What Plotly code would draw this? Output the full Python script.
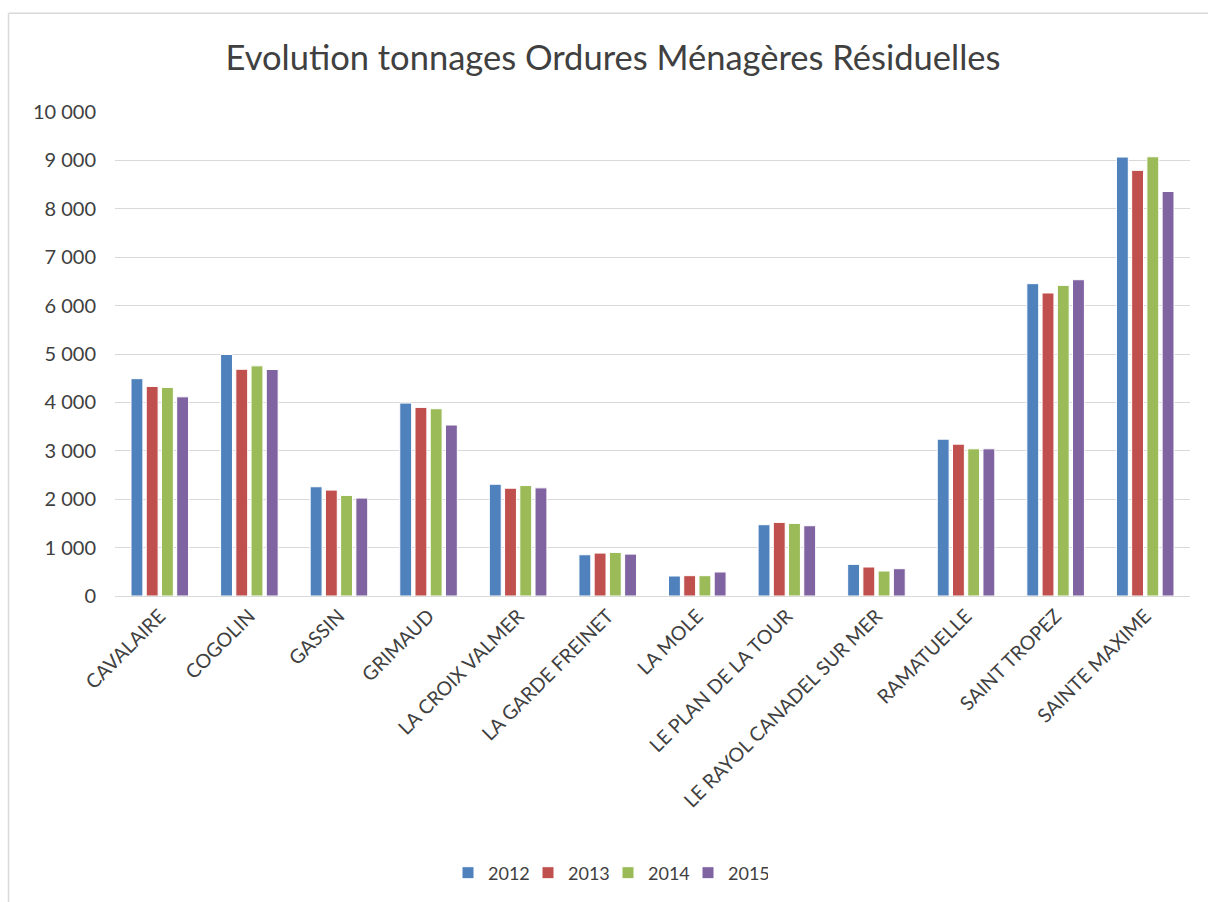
import plotly.graph_objects as go

communes = ["CAVALAIRE", "COGOLIN", "GASSIN", "GRIMAUD", "LA CROIX VALMER",
            "LA GARDE FREINET", "LA MOLE", "LE PLAN DE LA TOUR",
            "LE RAYOL CANADEL SUR MER", "RAMATUELLE", "SAINT TROPEZ", "SAINTE MAXIME"]
v2012 = [4490, 4990, 2257, 3986, 2309, 852, 413, 1473, 654, 3240, 6453, 9069]
v2013 = [4330, 4685, 2188, 3897, 2227, 887, 420, 1521, 599, 3137, 6261, 8794]
v2014 = [4310, 4755, 2078, 3869, 2282, 900, 420, 1500, 516, 3041, 6418, 9075]
v2015 = [4115, 4680, 2023, 3533, 2234, 866, 496, 1452, 564, 3041, 6535, 8357]
years = ["2012", "2013", "2014", "2015"]
colors = ["#4F81BD", "#C0504D", "#9BBB59", "#8064A2"]
yticks = list(range(0, 10001, 1000))

fig = go.Figure()
for name, vals, col in zip(years, [v2012, v2013, v2014, v2015], colors):
    fig.add_trace(go.Bar(x=communes, y=vals, name=name,
                         marker=dict(color=col, line=dict(color="white", width=1))))

W, H = 1208, 902
L, R, T, B = 115, 18, 112, 305
PW, PH = W - L - R, H - T - B

def px(x):
    return (x - L) / PW

def py(y):
    return (H - B - y) / PH

FONT = "Lato, 'Open Sans', sans-serif"
fig.update_layout(
    width=W, height=H,
    paper_bgcolor="white", plot_bgcolor="white",
    margin=dict(l=L, r=R, t=T, b=B),
    separators=", ",
    barmode="group", bargap=0.32, bargroupgap=0.22,
    font=dict(family=FONT, color="#404040"),
    title=dict(text="Evolution tonnages Ordures Ménagères Résiduelles",
               x=613 / W, xanchor="center", y=1 - 58 / H, yanchor="middle",
               xref="container", yref="container",
               font=dict(size=34.5, color="#404040", family=FONT)),
    legend=dict(orientation="h", x=px(448), xanchor="left", y=py(873), yanchor="middle",
                font=dict(size=18, color="#404040"), itemwidth=30, traceorder="normal",
                entrywidth=35, entrywidthmode="pixels"),
    xaxis=dict(tickangle=-45, tickfont=dict(size=19.5, color="#404040"),
               showline=True, linecolor="#D9D9D9", linewidth=1, ticks="",
               automargin=False),
    yaxis=dict(range=[0, 10000], tickvals=yticks, tickformat=",d",
               tickfont=dict(size=20, color="#404040"), ticklabelstandoff=18,
               gridcolor="#D9D9D9", gridwidth=1, zeroline=False, ticks="",
               automargin=False),
    shapes=[
        dict(type="line", xref="paper", yref="paper",
             x0=px(8.5), x1=px(W + 2), y0=py(13), y1=py(13),
             line=dict(color="#D9D9D9", width=1.5), layer="below"),
        dict(type="line", xref="paper", yref="paper",
             x0=px(8.5), x1=px(8.5), y0=py(13), y1=py(H + 2),
             line=dict(color="#D9D9D9", width=1.5), layer="below"),
    ],
)

fig.write_html(
    "out.html",
    config={"displayModeBar": False},
    post_script="document.body.style.margin='0';document.body.style.overflow='hidden';",
)
